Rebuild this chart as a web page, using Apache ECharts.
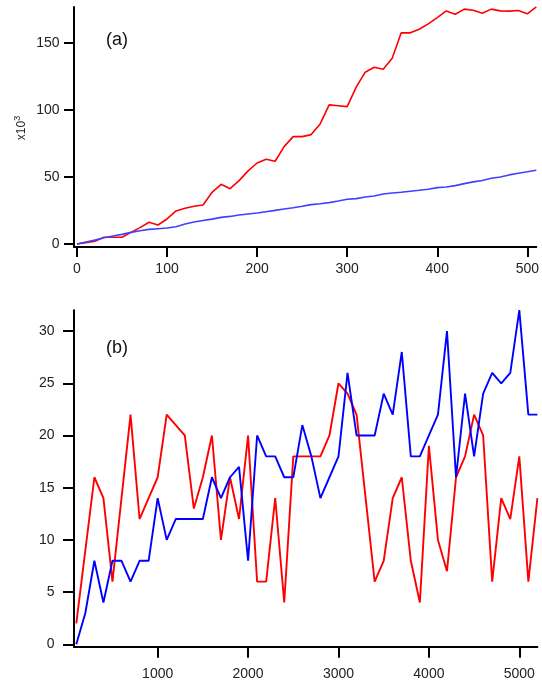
<!DOCTYPE html>
<html>
<head>
<meta charset="utf-8">
<script src="https://cdn.jsdelivr.net/npm/echarts@6/dist/echarts.min.js"></script>
<style>
html,body{margin:0;padding:0;background:#fff;}
#chart{width:542px;height:685px;}
</style>
</head>
<body>
<div id="chart"></div>
<script>
// ---- Panel (a) data (values in thousands) ----
const topX = [0,10,20,30,40,50,60,70,80,90,100,110,120,130,140,150,160,170,180,190,200,210,220,230,240,250,260,270,280,290,300,310,320,330,340,350,360,370,380,390,400,410,420,430,440,450,460,470,480,490,500,510];
const topRed = [0,1,2,5,5,5,8.7,12.2,16.2,14.2,18.7,24.7,26.7,28.2,29.1,38.6,44.6,41.3,47.3,54.6,60.5,63.3,61.8,72.7,80.2,80.2,81.7,89.7,103.9,103.3,102.6,117.1,128.3,132,130.5,138.8,157.7,157.7,160.4,164.4,169.1,174.1,171.6,175.4,174.6,172.4,175.4,174.1,173.9,174.4,171.9,177.1];
const topBlue = [0,1.5,2.9,4.7,6,7.2,8.7,9.9,10.9,11.4,11.9,12.9,14.9,16.4,17.6,18.6,19.9,20.6,21.6,22.4,23.1,24.1,25.1,26.1,27.1,28.2,29.4,30.1,30.9,32.1,33.4,33.9,35.1,35.9,37.4,38.1,38.6,39.4,40.1,40.9,42.1,42.6,43.6,45.1,46.4,47.4,49.1,50.1,51.6,52.9,53.9,55.1];
const topXTicks = [0,100,200,300,400,500];
const topYTicks = [0,50,100,150];

// ---- Panel (b) data ----
const botX = [100,200,300,400,500,600,700,800,900,1000,1100,1200,1300,1400,1500,1600,1700,1800,1900,2000,2100,2200,2300,2400,2500,2600,2700,2800,2900,3000,3100,3200,3300,3400,3500,3600,3700,3800,3900,4000,4100,4200,4300,4400,4500,4600,4700,4800,4900,5000,5100,5200];
const botRed = [2,9,16,14,6,14,22,12,14,16,22,21,20,13,16,20,10,16,12,20,6,6,14,4,18,18,18,18,20,25,24,22,14,6,8,14,16,8,4,19,10,7,16,18,22,20,6,14,12,18,6,14];
const botBlue = [0,3,8,4,8,8,6,8,8,14,10,12,12,12,12,16,14,16,17,8,20,18,18,16,16,21,18,14,16,18,26,20,20,20,24,22,28,18,18,20,22,30,16,24,18,24,26,25,26,32,22,22];
const botXTicks = [1000,2000,3000,4000,5000];
const botYTicks = [0,5,10,15,20,25,30];

const pair = (xs, ys) => xs.map((x, i) => [x, ys[i]]);
const FONT = "'Liberation Sans', Arial, Helvetica, sans-serif";

function axisCommon(ticks, tickLen, margin) {
  return {
    type: 'value',
    splitLine: { show: false },
    axisLine: { show: true, onZero: false, lineStyle: { color: '#000', width: 2 } },
    axisTick: { show: true, length: tickLen, customValues: ticks, lineStyle: { color: '#000', width: 2 } },
    axisLabel: { customValues: ticks, margin: margin, color: '#222', fontSize: 14, fontFamily: FONT,
                 formatter: v => String(v) }
  };
}

const chart = echarts.init(document.getElementById('chart'), null, { renderer: 'canvas' });
chart.setOption({
  animation: false,
  backgroundColor: '#fff',
  grid: [
    { left: 74, right: 3.3, top: 7, bottom: 438 },
    { left: 74, right: 4.6, top: 310.2, bottom: 38.3 }
  ],
  xAxis: [
    Object.assign(axisCommon(topXTicks, 10, 15), { gridIndex: 0, min: -3.3, max: 510 }),
    Object.assign(axisCommon(botXTicks, 11, 20), { gridIndex: 1, min: 74.6, max: 5200 })
  ],
  yAxis: [
    Object.assign(axisCommon(topYTicks, 10, 14.5), { gridIndex: 0, min: -2.24, max: 177 }),
    Object.assign(axisCommon(botYTicks, 11, 19.5), { gridIndex: 1, min: -0.23, max: 32 })
  ],
  series: [
    { type: 'line', xAxisIndex: 0, yAxisIndex: 0, data: pair(topX, topRed), showSymbol: false, lineStyle: { color: '#ff0000', width: 1.6 } },
    { type: 'line', xAxisIndex: 0, yAxisIndex: 0, data: pair(topX, topBlue), showSymbol: false, lineStyle: { color: '#4040ff', width: 1.6 } },
    { type: 'line', xAxisIndex: 1, yAxisIndex: 1, data: pair(botX, botRed), showSymbol: false, lineStyle: { color: '#ff0000', width: 1.9 } },
    { type: 'line', xAxisIndex: 1, yAxisIndex: 1, data: pair(botX, botBlue), showSymbol: false, lineStyle: { color: '#0000ff', width: 1.9 } }
  ],
  graphic: [
    { type: 'text', left: 106, top: 31, style: { text: '(a)', fontSize: 18, fontFamily: FONT, fill: '#111' } },
    { type: 'text', left: 106, top: 339, style: { text: '(b)', fontSize: 18, fontFamily: FONT, fill: '#111' } },
    { type: 'text', x: 22, y: 128, rotation: Math.PI / 2,
      style: { text: 'x10{s|3}', rich: { s: { fontSize: 9, verticalAlign: 'top', padding: [0,0,8,0], fontFamily: FONT, fill: '#222' } },
               fontSize: 12, fontFamily: FONT, fill: '#222', align: 'center', verticalAlign: 'middle' } }
  ]
});
</script>
</body>
</html>
